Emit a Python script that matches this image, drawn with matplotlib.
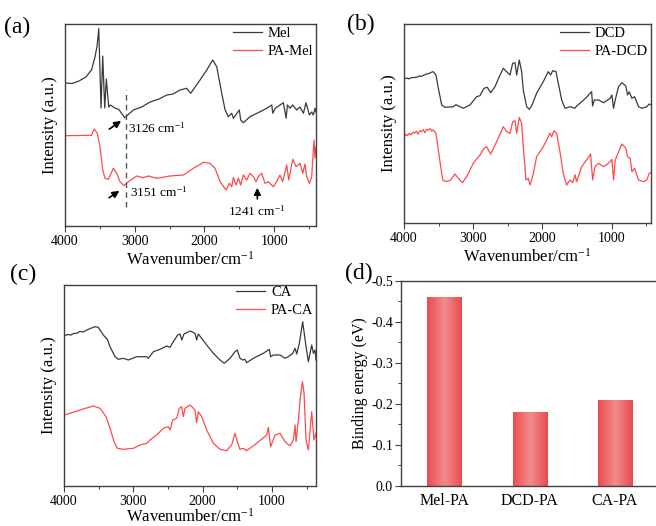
import numpy as np
import matplotlib
matplotlib.use("Agg")
import matplotlib.pyplot as plt
from matplotlib.ticker import MultipleLocator
from matplotlib.colors import LinearSegmentedColormap

plt.rcParams['font.family'] = ['Liberation Serif', 'DejaVu Serif']
plt.rcParams['mathtext.fontset'] = 'custom'
plt.rcParams['mathtext.rm'] = 'Liberation Serif'
plt.rcParams['mathtext.it'] = 'Liberation Serif:italic'

# ---------------- data (wavenumber, intensity a.u.) ----------------
MEL = [(4000,143),(3900,142.5),(3800,145),(3700,149),(3620,156),(3570,169),(3540,180),
       (3516,197.5),(3483,118),(3459,170),(3430,118),(3407,147),(3373,119),(3350,121),
       (3326,120),(3278,117.7),(3230,116.7),(3143,108.3),(3020,116),(2900,119),(2780,124),
       (2650,127),(2541,131),(2450,132),(2350,136),(2254,137.7),(2197,132.7),(2063,146),
       (1967,156),(1881,166),(1824,159.3),(1752,132.7),(1704,116),(1657,109.3),(1608,112.7),
       (1585,107.7),(1500,116),(1480,106),(1442,103.3),(1346,109.3),(1202,114.3),(1106,117.7),
       (1034,121),(1020,112.7),(985,117.7),(868,123.3),(829,107.7),(810,121),(772,117.7),
       (734,121),(677,116),(629,119),(581,112.7),(543,123.3),(495,111),(462,114),(438,111),
       (414,117.7),(400,114)]
PA_MEL = [(4000,90.3),(3800,90.5),(3620,90.7),(3584,97),(3537,92.7),(3498,79.3),(3459,56),
          (3426,47.7),(3378,46.7),(3307,57.7),(3258,52.7),(3211,44.3),(3154,40.3),(3092,44.3),
          (2972,50),(2876,48.3),(2804,50),(2685,47.7),(2494,50),(2302,51),(2159,57.7),
          (2016,63.7),(1920,62.7),(1848,57.7),(1776,44.3),(1690,36),(1642,42.7),(1608,39.3),
          (1585,48.7),(1547,41),(1513,47.7),(1480,41),(1442,51),(1394,46),(1346,52.7),
          (1298,49.3),(1260,44.3),(1227,49.3),(1180,52.7),(1132,42.7),(1084,44.3),(1013,39.3),
          (965,44.3),(917,51),(878,44.3),(820,61),(791,46),(734,66.7),(686,59.3),(629,62.7),
          (590,52.7),(557,62),(533,49.3),(495,42.7),(462,49.3),(428,86),(414,68),(400,79.3)]

DCD = [(4000,143.7),(3960,144.6),(3930,143.8),(3900,144.9),(3860,145.2),(3817,145.4),(3780,146.8),
       (3750,146.3),(3710,147.6),(3672,148.7),(3630,149.4),(3600,150.6),(3576,151),(3538,147.7),
       (3504,134.4),(3455,117.7),(3408,115.4),(3287,116),(3249,118),(3191,116),(3143,114.4),
       (3046,117.7),(2950,126),(2902,127),(2844,134.4),(2796,135.4),(2748,130),(2685,136),
       (2623,146),(2565,154.4),(2516,151),(2468,147.7),(2429,159.4),(2396,160),(2371,147.7),
       (2334,162.7),(2299,151),(2276,132.7),(2227,116),(2189,113.4),(2155,116.7),(2083,129.4),
       (1987,141),(1915,151),(1880,147.7),(1851,152),(1803,151),(1755,134.4),(1721,122.7),
       (1673,114.4),(1601,116),(1529,114.4),(1505,116.7),(1457,119.4),(1361,125.4),(1312,129.4),
       (1288,131),(1274,116.7),(1250,122.7),(1187,122.7),(1115,120),(1019,124.4),(995,127.7),
       (971,114.4),(947,122.7),(899,136),(851,140),(793,136.7),(769,127.7),(745,131),(706,124.4),
       (667,126),(610,116),(562,114.4),(490,116),(456,118.7),(437,118)]
PA_DCD = [(4000,86),(3970,88.5),(3950,87),(3920,89.5),(3900,88),(3870,90.5),(3850,89.5),
          (3820,91.5),(3800,88.5),(3770,92),(3750,91),(3720,93),(3700,90),(3670,93.5),(3650,92.5),
          (3620,94),(3600,91.5),(3576,92.7),(3538,89.4),(3490,66),(3441,42.7),(3383,41),
          (3325,42.7),(3263,48.7),(3215,44.4),(3153,40),(3095,46),(2999,59.4),(2902,67.7),
          (2844,74.4),(2806,76),(2748,68.7),(2661,81),(2565,96),(2516,91),(2468,89.4),(2429,101),
          (2396,102),(2371,89.4),(2334,105.4),(2299,99.4),(2276,76),(2237,42.7),(2203,44.4),
          (2179,37.7),(2141,46),(2083,66),(1987,76),(1890,89.4),(1866,86),(1832,92),(1794,89.4),
          (1746,71),(1698,49.4),(1649,37.7),(1601,42.7),(1563,40),(1529,48),(1505,41),(1433,56),
          (1361,62.7),(1303,68.7),(1274,42.7),(1240,56),(1187,59.4),(1115,56),(1043,59.4),
          (995,63.4),(971,42.7),(947,62.7),(851,78.7),(793,74.4),(769,66),(730,64.4),(706,51),
          (667,54.4),(610,42.7),(538,41),(490,42.7),(456,49.4),(437,50)]

CA = [(4000,150),(3950,151.5),(3900,151),(3860,152.5),(3817,152.7),(3770,154.5),(3720,154),
      (3672,156),(3620,157.5),(3553,159.3),(3505,158.7),(3433,151),(3375,146.7),(3336,139.3),
      (3264,129.3),(3216,126.7),(3144,127.7),(3072,126),(2951,129.3),(2807,129.3),(2783,127.7),
      (2711,134.3),(2615,136.7),(2518,140),(2470,138.7),(2423,144.3),(2359,151),(2326,152),
      (2302,146),(2269,152),(2182,155),(2110,152.7),(2086,146),(2062,152),(2014,147.7),
      (1941,141),(1845,132.7),(1749,126),(1687,122.7),(1605,127.7),(1532,134.3),(1500,136),
      (1461,127.7),(1423,126),(1389,126.7),(1365,123.3),(1268,127.7),(1124,132.7),(1038,136.7),
      (1018,129.3),(980,131),(883,131),(811,127.7),(763,129.3),(700,132.7),(666,137.7),
      (642,132),(604,142.7),(556,164.3),(508,139.3),(474,124.3),(426,141),(402,132.7),
      (378,136),(364,126)]
PA_CA = [(4000,71),(3900,73),(3769,76),(3650,78.5),(3577,80),(3480,77.7),(3394,69.3),
         (3336,57.7),(3278,44.3),(3231,37.7),(3144,36.7),(3000,37.7),(2904,41),(2807,42.7),
         (2759,46),(2663,51),(2567,57.7),(2494,59.3),(2470,56),(2432,66),(2374,67.7),(2336,77.7),
         (2302,79.3),(2278,69.3),(2254,77.7),(2182,81),(2110,76),(2086,63.3),(2062,74.3),
         (2014,69.3),(1941,56),(1845,42.7),(1749,36.7),(1653,35.3),(1581,41),(1532,52.7),
         (1500,44.3),(1461,36.7),(1413,37.7),(1365,35.3),(1220,42.7),(1076,51),(1052,58.7),
         (1018,39.3),(955,51),(883,52.7),(811,44.3),(739,40),(690,46),(666,61),(652,44.3),
         (618,66),(594,86),(560,104.3),(536,92.7),(508,46),(474,36),(426,74.3),(393,46),(364,52.7)]

BE_LABELS = ['Mel-PA', 'DCD-PA', 'CA-PA']
BE_VALUES = [-0.46, -0.18, -0.21]

# ---------------- figure ----------------
W, H = 656, 526
fig = plt.figure(figsize=(W/100, H/100), dpi=100)

def axpx(l, t, r, b):
    return fig.add_axes([l/W, 1-b/H, (r-l)/W, (b-t)/H])

BLACK = '#3a3a3a'
RED = '#ff4a4a'
SPINE = '#404040'

def style_spec(ax, xmin, ymax, xlpad=2):
    ax.set_xlim(4000, xmin)
    ax.set_ylim(0, ymax)
    ax.set_yticks([])
    ax.xaxis.set_major_locator(MultipleLocator(1000))
    ax.xaxis.set_minor_locator(MultipleLocator(500))
    ax.tick_params(axis='x', which='major', direction='out', length=4, width=0.8,
                   color=SPINE, labelsize=10, pad=2.5)
    ax.tick_params(axis='x', which='minor', direction='out', length=2.2, width=0.7, color=SPINE)
    for s in ax.spines.values():
        s.set_color(SPINE)
        s.set_linewidth(1.0)
    ax.set_xlabel('Wavenumber/cm$^{-1}$', fontsize=12, labelpad=xlpad)
    ax.set_ylabel('Intensity (a.u.)', fontsize=12, labelpad=5)

def plot_pair(ax, s1, s2, l1, l2):
    a = np.array(s1); b = np.array(s2)
    ax.plot(a[:, 0], a[:, 1], color=BLACK, lw=0.9, label=l1)
    ax.plot(b[:, 0], b[:, 1], color=RED, lw=0.9, label=l2)

def legend(ax, y):
    ax.legend(loc='upper right', bbox_to_anchor=(0.99, y), frameon=False, fontsize=10.5,
              handlelength=2.0, handletextpad=0.4, labelspacing=0.3, borderpad=0,
              borderaxespad=0)

ARROW = dict(arrowstyle='-|>', color='black', lw=1.2, mutation_scale=10)

# (a)
ax_a = axpx(65, 24, 316, 226)
plot_pair(ax_a, MEL, PA_MEL, 'Mel', 'PA-Mel')
style_spec(ax_a, 400, 202)
legend(ax_a, 0.985)
ax_a.plot([3126, 3126], [19, 136], color='#555555', lw=1.0, ls=(0, (4, 3)))
ax_a.annotate('', xy=(3163, 106.7), xytext=(3397, 95.3), arrowprops=ARROW)
ax_a.text(3096, 98, '3126 cm$^{-1}$', fontsize=9.5, ha='left', va='center')
ax_a.annotate('', xy=(3187, 36.7), xytext=(3402, 26.7), arrowprops=ARROW)
ax_a.text(3067, 33.3, '3151 cm$^{-1}$', fontsize=9.5, ha='left', va='center')
ax_a.annotate('', xy=(1241, 41), xytext=(1241, 24.3), arrowprops=ARROW)
ax_a.text(1250, 14.3, '1241 cm$^{-1}$', fontsize=9.5, ha='center', va='center')

# (b)
ax_b = axpx(404, 24, 650.5, 222.7)
plot_pair(ax_b, DCD, PA_DCD, 'DCD', 'PA-DCD')
style_spec(ax_b, 437, 198.7)
legend(ax_b, 0.985)

# (c)
ax_c = axpx(64, 285, 316, 486)
plot_pair(ax_c, CA, PA_CA, 'CA', 'PA-CA')
style_spec(ax_c, 364, 201, xlpad=0)
legend(ax_c, 0.995)

# (d)
ax_d = axpx(400.7, 280.7, 659.2, 486)
x = np.arange(len(BE_LABELS))
bars = ax_d.bar(x, BE_VALUES, width=0.41, color='none', edgecolor='none')
cmap = LinearSegmentedColormap.from_list('barg', ['#ea4b4e', '#f28c8c', '#ea4b4e'])
grad = np.linspace(0, 1, 256).reshape(1, -1)
for bp in bars:
    x0, y0, bw, bh = bp.get_x(), bp.get_y(), bp.get_width(), bp.get_height()
    im = ax_d.imshow(grad, extent=[x0, x0 + bw, y0, y0 + bh], cmap=cmap,
                     aspect='auto', interpolation='bicubic', zorder=2)
    im.set_clip_path(bp)
ax_d.set_xlim(-0.52, 2.52)
ax_d.set_ylim(0, -0.5)
ax_d.set_xticks(x)
ax_d.set_xticklabels(BE_LABELS, fontsize=11.5)
ax_d.yaxis.set_major_locator(MultipleLocator(0.1))
ax_d.yaxis.set_minor_locator(MultipleLocator(0.05))
ax_d.yaxis.set_major_formatter(matplotlib.ticker.FuncFormatter(lambda v, p: f'{v:.1f}'))
ax_d.tick_params(axis='y', which='major', direction='out', length=4, width=0.8,
                 color=SPINE, labelsize=10, pad=1.5)
ax_d.tick_params(axis='y', which='minor', direction='out', length=2.2, width=0.7, color=SPINE)
ax_d.tick_params(axis='x', length=0, pad=5)
for s in ax_d.spines.values():
    s.set_color(SPINE)
    s.set_linewidth(1.0)
ax_d.set_ylabel('Binding energy (eV)', fontsize=11.5, labelpad=2)

# panel labels
for lab, px, py in [('(a)', 4, 27.5), ('(b)', 347, 24), ('(c)', 10, 274), ('(d)', 345, 273)]:
    fig.text(px/W, 1 - py/H, lab, fontsize=17, ha='left', va='center')

fig.savefig('out.png', dpi=100)
